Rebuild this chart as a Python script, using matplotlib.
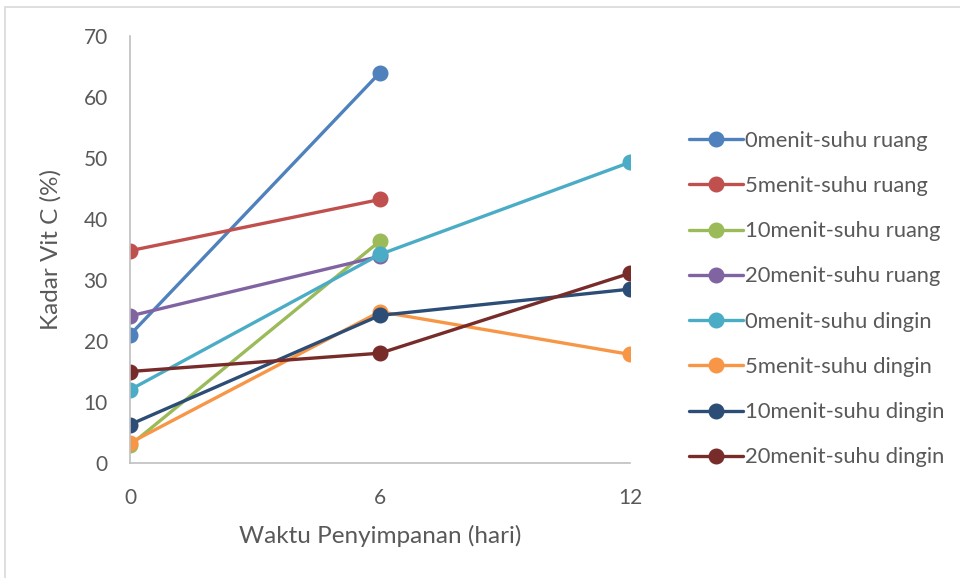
import matplotlib
matplotlib.use("Agg")
import matplotlib.pyplot as plt
from matplotlib.patches import Rectangle

# Storage time categories (days)
days = ["0", "6", "12"]

# Vitamin C content (%) per treatment
s0_ruang = [21.0, 64.0]
s5_ruang = [34.8, 43.2]
s10_ruang = [2.9, 36.4]
s20_ruang = [24.1, 33.9]
s0_dingin = [12.0, 34.2, 49.3]
s5_dingin = [3.3, 24.8, 17.8]
s10_dingin = [6.3, 24.2, 28.5]
s20_dingin = [15.0, 18.0, 31.1]

series = [
    ("0menit-suhu ruang", s0_ruang, "#4F81BD"),
    ("5menit-suhu ruang", s5_ruang, "#C0504D"),
    ("10menit-suhu ruang", s10_ruang, "#9BBB59"),
    ("20menit-suhu ruang", s20_ruang, "#8064A2"),
    ("0menit-suhu dingin", s0_dingin, "#4BACC6"),
    ("5menit-suhu dingin", s5_dingin, "#F79646"),
    ("10menit-suhu dingin", s10_dingin, "#2C4D75"),
    ("20menit-suhu dingin", s20_dingin, "#772C2A"),
]

plt.rcParams["font.family"] = ["Lato", "DejaVu Sans"]
text_color = "#595959"
axis_color = "#BFBFBF"

fig = plt.figure(figsize=(9.6, 5.78), dpi=100)
W, H = 960, 578
ax = fig.add_axes([130 / W, 1 - 463 / H, 500 / W, (463 - 36) / H])

handles = []
for label, vals, color in series:
    x = list(range(len(vals)))
    h, = ax.plot(x, vals, color=color, lw=2.4, marker="o", ms=10.5,
                 mfc=color, mec=color, label=label, solid_capstyle="round")
    handles.append(h)

ax.set_xlim(0, 2)
ax.set_ylim(0, 70)
ax.set_xticks(range(len(days)))
ax.set_xticklabels(days)
ax.set_yticks(range(0, 71, 10))

for side in ["top", "right"]:
    ax.spines[side].set_visible(False)
for side in ["left", "bottom"]:
    ax.spines[side].set_color(axis_color)
    ax.spines[side].set_linewidth(1.2)
ax.tick_params(axis="both", length=0, labelsize=15, colors=text_color)
ax.tick_params(axis="y", pad=16)
ax.tick_params(axis="x", pad=18)

ax.set_xlabel("Waktu Penyimpanan (hari)", fontsize=17.5, color=text_color, labelpad=12)
ax.set_ylabel("Kadar Vit C (%)", fontsize=17.5, color=text_color, labelpad=16)

fig.legend(handles=handles, loc="upper left",
           bbox_to_anchor=(680 / W, 1 - 122 / H), frameon=False,
           fontsize=15.8, labelcolor=text_color, handlelength=2.45,
           handletextpad=0.12, labelspacing=1.15, borderaxespad=0)

# Light chart-area frame
fig.patches.append(Rectangle((5 / W, -0.1), 1.2, 1 - 7 / H + 0.1,
                             transform=fig.transFigure, fill=False,
                             edgecolor="#D9D9D9", lw=1.2))

fig.savefig("out.png", dpi=100)
